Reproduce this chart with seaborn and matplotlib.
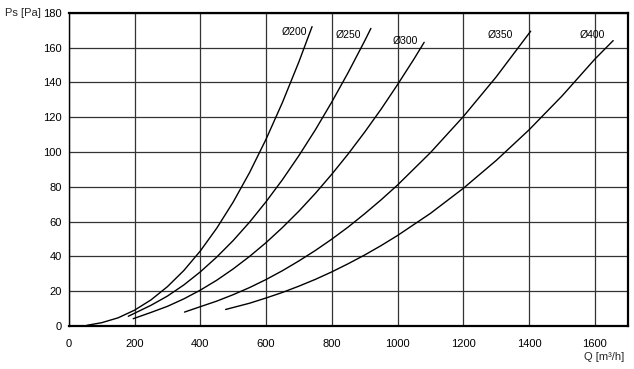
import matplotlib
matplotlib.use("Agg")
import matplotlib.pyplot as plt
import numpy as np
import pandas as pd
import seaborn as sns

# values: Q [m3/h] vs Ps [Pa]
q_200 = [55, 100, 150, 200, 250, 300, 350, 400, 450, 500, 550, 600, 650, 700, 740]
ps_200 = [0.4, 1.9, 4.7, 9.1, 15.0, 22.6, 31.9, 43.1, 56.2, 71.2, 88.2, 107.3, 128.5, 151.8, 172]

q_250 = [181, 250, 300, 350, 400, 450, 500, 550, 600, 650, 700, 750, 800, 850, 900, 919]
ps_250 = [5.6, 11.9, 17.2, 23.6, 31.1, 39.6, 49.1, 59.7, 71.4, 84.1, 97.9, 112.7, 128.7, 145.7, 163.8, 171]

q_300 = [196, 250, 300, 350, 400, 450, 500, 550, 600, 650, 700, 750, 800, 850, 900, 950,
         1000, 1050, 1081]
ps_300 = [4.2, 7.8, 11.3, 15.6, 20.6, 26.3, 32.8, 40.0, 47.9, 56.6, 66.0, 76.2, 87.2, 98.9,
          111.4, 124.6, 138.7, 153.4, 163]

q_350 = [352, 400, 450, 500, 550, 600, 650, 700, 750, 800, 850, 900, 950, 1000, 1100, 1200,
         1300, 1405]
ps_350 = [8.0, 11.1, 14.3, 18.0, 22.1, 26.7, 31.8, 37.4, 43.4, 49.9, 56.9, 64.5, 72.5, 81,
          99.6, 120.3, 143.1, 169.4]

q_400 = [477, 550, 600, 650, 700, 750, 800, 850, 900, 950, 1000, 1100, 1200, 1300, 1400,
         1500, 1600, 1656]
ps_400 = [9.5, 13.1, 16.1, 19.3, 22.9, 26.8, 31.1, 35.8, 40.8, 46.2, 52, 64.7, 79.1, 95.1,
          112.7, 132.1, 153.3, 164]

diameters = ["Ø200", "Ø250", "Ø300", "Ø350", "Ø400"]
label_q = [685, 849, 1025, 1313, 1593]
label_ps = [169, 167, 163.5, 167, 167]

frames = []
for name, q, ps in zip(diameters,
                       [q_200, q_250, q_300, q_350, q_400],
                       [ps_200, ps_250, ps_300, ps_350, ps_400]):
    frames.append(pd.DataFrame({"Q": q, "Ps": ps, "d": name}))
df = pd.concat(frames, ignore_index=True)

sns.set_theme(style="white")
plt.rcParams["font.family"] = ["Liberation Sans", "DejaVu Sans"]

fig = plt.figure(figsize=(6.34, 3.69), dpi=100)
ax = fig.add_axes([0.1085, 0.1165, 0.8815, 0.849])

sns.lineplot(data=df, x="Q", y="Ps", units="d", estimator=None, sort=False,
             color="black", linewidth=1.0, ax=ax)

for name, x, y in zip(diameters, label_q, label_ps):
    ax.text(x, y, name, fontsize=7.5, ha="center", va="center", color="black")

ax.set_xlim(0, 1700)
ax.set_ylim(0, 180)
ax.set_xticks(np.arange(0, 1601, 200))
ax.set_yticks(np.arange(0, 181, 20))
ax.grid(True, color="#333333", linewidth=0.9)
ax.tick_params(axis="both", length=0, labelsize=8, colors="black")
ax.tick_params(axis="x", pad=9)
ax.tick_params(axis="y", pad=5)
ax.set_xlabel("")
ax.set_ylabel("")
for side in ["top", "bottom", "right"]:
    ax.spines[side].set_linewidth(1.6)
    ax.spines[side].set_color("black")
ax.spines["left"].set_linewidth(1.0)
ax.spines["left"].set_color("black")

fig.text(0.008, 0.965, "Ps [Pa]", fontsize=8, ha="left", va="center")
fig.text(0.953, 0.033, "Q [m³/h]", fontsize=8, ha="center", va="center")

fig.savefig("out.png", dpi=100)
